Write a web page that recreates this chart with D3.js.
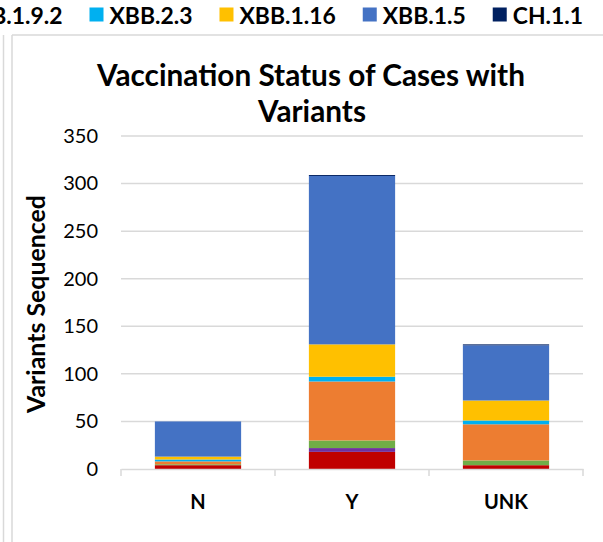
<!DOCTYPE html>
<html><head><meta charset="utf-8">
<script src="https://cdn.jsdelivr.net/npm/d3@7"></script>
<style>html,body{margin:0;padding:0;background:#fff}svg{display:block}</style>
</head><body><svg id="c" width="603" height="542"></svg>
<script>
const categories = ["N", "Y", "UNK"];
const seriesNames = ["Other", "XBB", "XBB.1.9.1", "XBB.1.9.2", "XBB.2.3", "XBB.1.16", "XBB.1.5", "CH.1.1"];
const seriesColors = ["#C00000", "#7030A0", "#70AD47", "#ED7D31", "#00B0F0", "#FFC000", "#4472C4", "#002060"];
const valOther   = [4, 18, 4];
const valXBB     = [0, 4, 0];
const valXBB191  = [1, 8, 5];
const valXBB192  = [3, 62, 38];
const valXBB23   = [2, 5, 4];
const valXBB116  = [3, 34, 21];
const valXBB15   = [37, 177, 58];
const valCH11    = [0, 1, 1];
const yTicks = [0, 50, 100, 150, 200, 250, 300, 350];
const titleLines = ["Vaccination Status of Cases with", "Variants"];
const yTitle = "Variants Sequenced";

const seriesValues = [valOther, valXBB, valXBB191, valXBB192, valXBB23, valXBB116, valXBB15, valCH11];
const rows = categories.map((c, i) => {
  const r = {cat: c};
  seriesNames.forEach((s, j) => r[s] = seriesValues[j][i]);
  return r;
});

const FONT = "Lato, 'Open Sans', sans-serif";
const svg = d3.select("#c");
svg.append("rect").attr("width", 603).attr("height", 542).attr("fill", "#fff");

function fit(sel, target) {
  sel.attr("font-size", 100);
  const w = sel.node().getComputedTextLength();
  const fs = 100 * target / w;
  sel.attr("font-size", fs);
  return fs;
}

// frame lines
const frameCol = "#d9d9d9";
svg.append("line").attr("x1", 3.5).attr("x2", 3.5).attr("y1", 35).attr("y2", 542).attr("stroke", frameCol).attr("stroke-width", 1.5);
svg.append("line").attr("x1", 12).attr("x2", 12).attr("y1", 35).attr("y2", 542).attr("stroke", frameCol).attr("stroke-width", 1.5);
svg.append("line").attr("x1", 12).attr("x2", 603).attr("y1", 35).attr("y2", 35).attr("stroke", frameCol).attr("stroke-width", 1.5);

const x = d3.scaleBand().domain(categories).range([121, 583]).paddingInner(0.44).paddingOuter(0.22);
const y = d3.scaleLinear().domain([0, 350]).range([469, 136]);

// gridlines
svg.append("g").selectAll("line").data(yTicks.filter(t => t > 0)).join("line")
  .attr("x1", 121).attr("x2", 583).attr("y1", d => y(d)).attr("y2", d => y(d))
  .attr("stroke", "#d9d9d9").attr("stroke-width", 1.5);

// bars
const stack = d3.stack().keys(seriesNames)(rows);
svg.append("g").selectAll("g").data(stack).join("g")
  .attr("fill", (d, i) => seriesColors[i])
  .selectAll("rect").data(d => d).join("rect")
  .attr("x", d => x(d.data.cat)).attr("width", x.bandwidth())
  .attr("y", d => y(d[1])).attr("height", d => Math.max(0, y(d[0]) - y(d[1])));

// x axis
const xa = svg.append("g").attr("transform", `translate(0,${y(0)})`)
  .call(d3.axisBottom(x).tickSize(0).tickPadding(26));
xa.select(".domain").attr("stroke", "#d9d9d9").attr("stroke-width", 1.5);
xa.selectAll("text").attr("font-family", FONT).attr("font-weight", "bold").attr("font-size", 20).attr("fill", "#000");
const step = x.step();
const boundaryX = categories.map((c, i) => 121 + i * step).concat([583]);
xa.selectAll(".bt").data(boundaryX).join("line").attr("class", "bt")
  .attr("x1", d => d).attr("x2", d => d).attr("y1", 0).attr("y2", 7)
  .attr("stroke", "#d9d9d9").attr("stroke-width", 1.5);

// y axis labels
const ya = svg.append("g").attr("transform", "translate(121,0)")
  .call(d3.axisLeft(y).tickValues(yTicks).tickSize(0).tickPadding(23));
ya.select(".domain").remove();
ya.selectAll("text").attr("font-family", FONT).attr("font-size", 20).attr("fill", "#000");

// y title
const yt = svg.append("text").attr("transform", "translate(45,304) rotate(-90)")
  .attr("text-anchor", "middle").attr("font-family", FONT).attr("font-weight", "bold").attr("fill", "#000")
  .text(yTitle);
fit(yt, 218);

// title
const t1 = svg.append("text").attr("x", 311).attr("y", 86).attr("text-anchor", "middle")
  .attr("font-family", FONT).attr("font-weight", "bold").attr("fill", "#000").text(titleLines[0]);
const tfs = fit(t1, 428);
svg.append("text").attr("x", 312).attr("y", 122).attr("text-anchor", "middle")
  .attr("font-family", FONT).attr("font-weight", "bold").attr("fill", "#000").attr("font-size", tfs).text(titleLines[1]);

// legend (anchored right, flows leftward; items wholly beyond the left edge are not drawn)
const lg = svg.append("g");
const probe = lg.append("text").attr("font-family", FONT).attr("font-weight", "bold").text("XBB.2.3");
const lfs = fit(probe, 83);
probe.remove();
let right = 583;
const sq = 14, gapSqText = 6, gapItems = 27, ly = 14.5;
for (let i = seriesNames.length - 1; i >= 0 && right > 0; i--) {
  const t = lg.append("text").attr("font-family", FONT).attr("font-weight", "bold").attr("font-size", lfs)
    .attr("fill", "#000").attr("dominant-baseline", "central").text(seriesNames[i]);
  const w = t.node().getComputedTextLength();
  const tx = right - w;
  t.attr("x", tx).attr("y", ly);
  if (tx - gapSqText > 0) {
    lg.append("rect").attr("x", tx - gapSqText - sq).attr("y", ly - sq / 2).attr("width", sq).attr("height", sq)
      .attr("fill", seriesColors[i]);
  }
  right = tx - gapSqText - sq - gapItems;
}
</script></body></html>
